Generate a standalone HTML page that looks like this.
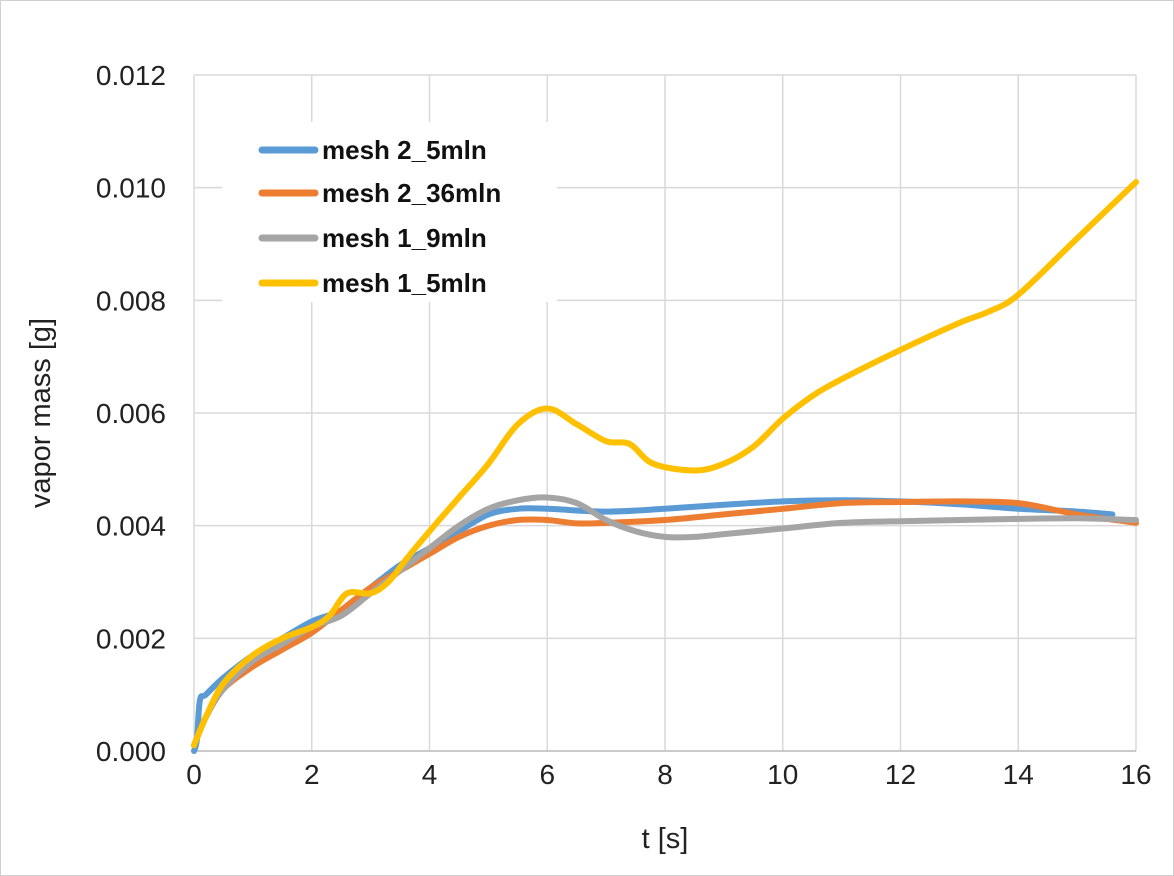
<!DOCTYPE html>
<html><head><meta charset="utf-8"><style>
body{margin:0;background:#fff;}
svg{display:block;font-family:"Liberation Sans",sans-serif;}
</style></head><body>
<svg id="chart" width="1174" height="876" viewBox="0 0 1174 876">
<rect x="0.5" y="0.5" width="1173" height="875" fill="#fff" stroke="#d0d0d0"/>
<g id="grid"></g><g id="axes"></g><g id="series"></g><g id="legend"></g>
<text x="665" y="848" font-size="29" text-anchor="middle" fill="#222">t [s]</text>
<text transform="translate(50,413) rotate(-90)" font-size="29" text-anchor="middle" fill="#222">vapor mass [g]</text>
</svg>
<script>
const xTicks=[0,2,4,6,8,10,12,14,16];
const yTicks=[0,0.002,0.004,0.006,0.008,0.010,0.012];
const yTickLabels=["0.000","0.002","0.004","0.006","0.008","0.010","0.012"];
const seriesNames=["mesh 2_5mln","mesh 2_36mln","mesh 1_9mln","mesh 1_5mln"];
const blueT=[0,0.05,0.1,0.2,0.5,1,1.5,2,2.5,3,3.5,4,4.5,5,5.5,6,7,8,9,10,11,12,13,14,15,15.6];
const blueV=[0,0.0002,0.0009,0.001,0.0013,0.0017,0.002,0.0023,0.0025,0.0029,0.0033,0.0036,0.0039,0.0042,0.0043,0.0043,0.00425,0.0043,0.00437,0.00443,0.00445,0.00443,0.00438,0.0043,0.00425,0.0042];
const orangeT=[0,0.2,0.5,1,1.5,2,2.5,3,3.5,4,4.5,5,5.5,6,6.5,7,8,9,10,11,12,13,14,15,16];
const orangeV=[0.0001,0.0006,0.0011,0.0015,0.0018,0.0021,0.0025,0.0029,0.0032,0.0035,0.0038,0.004,0.0041,0.0041,0.00404,0.00405,0.0041,0.0042,0.0043,0.0044,0.00442,0.00443,0.0044,0.0042,0.00405];
const grayT=[0,0.2,0.5,1,1.5,2,2.5,3,3.5,4,4.5,5,5.5,6,6.5,7,7.5,8,8.5,9,10,11,12,13,14,15,16];
const grayV=[0.0001,0.0006,0.0011,0.0016,0.0019,0.0022,0.0024,0.0028,0.0032,0.0036,0.004,0.0043,0.00445,0.0045,0.0044,0.0041,0.0039,0.0038,0.0038,0.00385,0.00395,0.00405,0.00408,0.0041,0.00412,0.00413,0.0041];
const yellowT=[0,0.2,0.5,1,1.5,2,2.3,2.6,3,3.3,3.6,4,4.5,5,5.5,6,6.5,7,7.4,7.8,8.5,9,9.5,10,10.5,11,12,13,13.5,14,15,16];
const yellowV=[0.0001,0.0006,0.0012,0.0017,0.002,0.0022,0.0024,0.0028,0.0028,0.003,0.0034,0.0039,0.0045,0.0051,0.0058,0.00608,0.0058,0.0055,0.00545,0.0051,0.00498,0.0051,0.0054,0.0059,0.0063,0.0066,0.00712,0.0076,0.0078,0.0081,0.0091,0.0101];
const colors=["#5b9bd5","#ed7d31","#a5a5a5","#ffc000"];
const X0=194,X1=1136,Y0=751,Y1=75;
const sx=t=>X0+(t-0)/(16-0)*(X1-X0);
const sy=v=>Y0-(v/0.012)*(Y0-Y1);
const NS="http://www.w3.org/2000/svg";
function mk(tag,attrs,parent){const e=document.createElementNS(NS,tag);for(const k in attrs)e.setAttribute(k,attrs[k]);parent.appendChild(e);return e;}
function smooth(pts){let d='M'+pts[0][0].toFixed(1)+','+pts[0][1].toFixed(1);
for(let i=0;i<pts.length-1;i++){const p0=pts[Math.max(0,i-1)],p1=pts[i],p2=pts[i+1],p3=pts[Math.min(pts.length-1,i+2)];
const c1=[p1[0]+(p2[0]-p0[0])/6,p1[1]+(p2[1]-p0[1])/6],c2=[p2[0]-(p3[0]-p1[0])/6,p2[1]-(p3[1]-p1[1])/6];
d+=' C'+c1.map(v=>v.toFixed(1)).join(',')+' '+c2.map(v=>v.toFixed(1)).join(',')+' '+p2.map(v=>v.toFixed(1)).join(',');}
return d;}
const grid=document.getElementById('grid'),axes=document.getElementById('axes'),ser=document.getElementById('series'),leg=document.getElementById('legend');
xTicks.forEach(t=>{const l=mk('line',{x1:sx(t),x2:sx(t),y1:Y1,y2:Y0,stroke:'#d9d9d9','stroke-width':1.5},grid);


const tx=mk('text',{x:sx(t),y:Y0+33,'font-size':28,'text-anchor':'middle',fill:'#222'},axes);tx.textContent=t;

});
yTicks.forEach((v,i)=>{const l=mk('line',{x1:X0,x2:X1,y1:sy(v),y2:sy(v),stroke:'#d9d9d9','stroke-width':1.5},grid);


const tx=mk('text',{x:166,y:sy(v)+10,'font-size':28,'text-anchor':'end',fill:'#222'},axes);tx.textContent=yTickLabels[i];

});
const xa=mk('line',{x1:X0,x2:X1,y1:Y0,y2:Y0,stroke:'#bfbfbf','stroke-width':1.5},axes);


const all=[[blueT,blueV],[orangeT,orangeV],[grayT,grayV],[yellowT,yellowV]];
all.forEach((s,i)=>{const pts=s[0].map((t,j)=>[sx(t),sy(s[1][j])]);
const p=mk('path',{d:smooth(pts),fill:'none',stroke:colors[i],'stroke-width':6,'stroke-linejoin':'round','stroke-linecap':'round'},ser);

});
const bg=mk('rect',{x:222,y:122,width:335,height:180,fill:'#fff'},leg);


const rows=[150,193,238,283];
seriesNames.forEach((n,i)=>{const l=mk('line',{x1:262,x2:315,y1:rows[i],y2:rows[i],stroke:colors[i],'stroke-width':7,'stroke-linecap':'round'},leg);


const t=mk('text',{x:322,y:rows[i]+9,'font-size':26,'font-weight':'bold',fill:'#111'},leg);t.textContent=n;

});
</script>
</body></html>
